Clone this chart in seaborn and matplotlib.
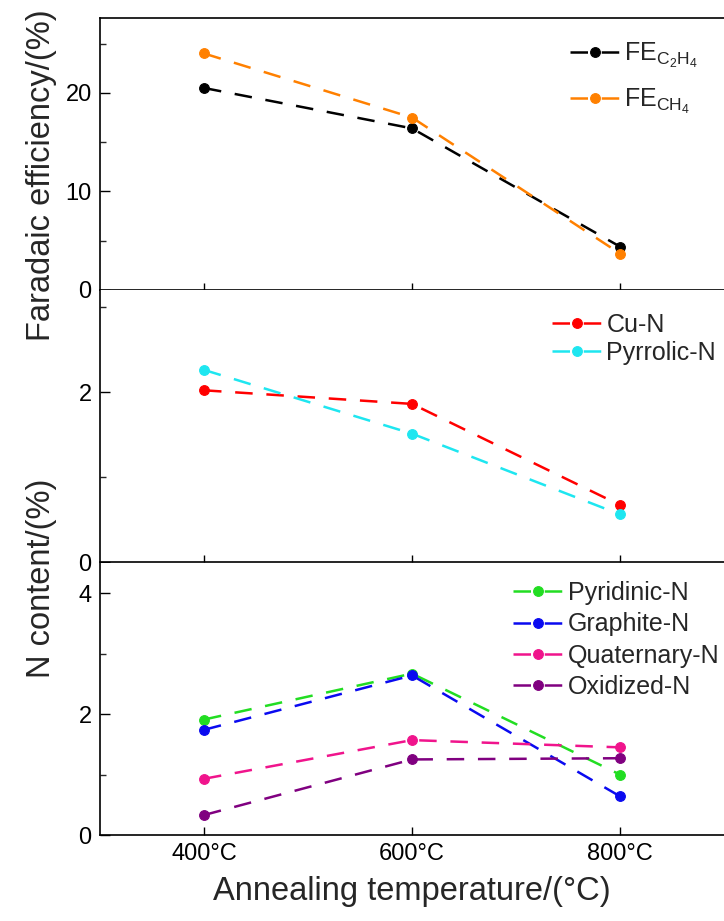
import matplotlib
matplotlib.use("Agg")
import matplotlib.pyplot as plt
import seaborn as sns
from matplotlib.ticker import MultipleLocator

temps = [400, 600, 800]
temp_labels = ["400°C", "600°C", "800°C"]

# Faradaic efficiency (%)
fe_c2h4 = [20.5, 16.4, 4.4]
fe_ch4 = [24.0, 17.5, 3.7]

# N content (%), middle panel
cu_n = [2.02, 1.86, 0.67]
pyrrolic_n = [2.26, 1.51, 0.56]

# N content (%), bottom panel
pyridinic_n = [1.91, 2.67, 1.00]
graphite_n = [1.74, 2.64, 0.64]
quaternary_n = [0.93, 1.57, 1.45]
oxidized_n = [0.33, 1.25, 1.27]

sns.set_style("ticks")
plt.rcParams["font.family"] = ["Liberation Sans", "DejaVu Sans"]
plt.rcParams["mathtext.default"] = "regular"
plt.rcParams["mathtext.fontset"] = "custom"
plt.rcParams["mathtext.rm"] = "Liberation Sans"
plt.rcParams["mathtext.it"] = "Liberation Sans"

panels = [
    {
        "series": [("FE$_{C_2H_4}$", fe_c2h4, "black"),
                   ("FE$_{CH_4}$", fe_ch4, "#FF8000")],
        "ylim": (0, 27.6), "major": 10, "minor": 5,
        "leg": (0.753, 0.917), "spacing": 0.68,
    },
    {
        "series": [("Cu-N", cu_n, "#FF0000"),
                   ("Pyrrolic-N", pyrrolic_n, "#1EE6F0")],
        "ylim": (0, 3.2), "major": 2, "minor": 1,
        "leg": (0.724, 0.915), "spacing": 0.16,
    },
    {
        "series": [("Pyridinic-N", pyridinic_n, "#22DD22"),
                   ("Graphite-N", graphite_n, "#0A0AF0"),
                   ("Quaternary-N", quaternary_n, "#F0148C"),
                   ("Oxidized-N", oxidized_n, "#800080")],
        "ylim": (0, 4.5), "major": 2, "minor": 1,
        "leg": (0.662, 0.933), "spacing": 0.29,
    },
]

fig = plt.figure(figsize=(7.24, 9.21), dpi=100)
left, width = 100 / 724, 624 / 724
tops = [18, 290, 563]
h = 272

axes = []
for i, p in enumerate(panels):
    bottom = 1 - (tops[i] + h) / 921
    ax = fig.add_axes([left, bottom, width, h / 921])
    axes.append(ax)
    for name, vals, col in p["series"]:
        sns.lineplot(x=temps, y=vals, ax=ax, color=col, label=name,
                     linestyle=(0, (7, 5.5)), linewidth=1.8,
                     marker="o", markersize=7,
                     markeredgecolor=col, markeredgewidth=0.8)
    ax.set_xlim(300, 900)
    ax.set_ylim(*p["ylim"])
    ax.yaxis.set_major_locator(MultipleLocator(p["major"]))
    ax.yaxis.set_minor_locator(MultipleLocator(p["minor"]))
    ax.set_xticks(temps)
    ax.set_xticklabels(temp_labels if i == 2 else [])
    ax.tick_params(axis="both", which="major", direction="in", length=7,
                   width=1, labelsize=17, pad=6, colors="black")
    ax.tick_params(axis="y", which="minor", direction="in", length=4.5, width=1)
    ax.tick_params(axis="x", which="major", length=5 if i < 2 else 6)
    ax.spines["right"].set_visible(False)
    if i > 0:
        ax.spines["top"].set_visible(False)
    for s in ["left", "bottom", "top"]:
        ax.spines[s].set_linewidth(1.2)
        ax.spines[s].set_color("black")
    ax.legend(loc="upper left", bbox_to_anchor=p["leg"], frameon=False,
              fontsize=18, handlelength=2.0, handletextpad=0.18,
              borderaxespad=0, borderpad=0, labelspacing=p["spacing"],
              numpoints=1)

axes[2].set_xlabel("Annealing temperature/(°C)", fontsize=23.5, labelpad=8)
fig.text(0.057, 1 - 175 / 921, "Faradaic efficiency/(%)", rotation=90,
         fontsize=23.5, ha="center", va="center")
fig.text(0.057, 1 - 578 / 921, "N content/(%)", rotation=90,
         fontsize=23.5, ha="center", va="center")

fig.savefig("out.png", dpi=100)
